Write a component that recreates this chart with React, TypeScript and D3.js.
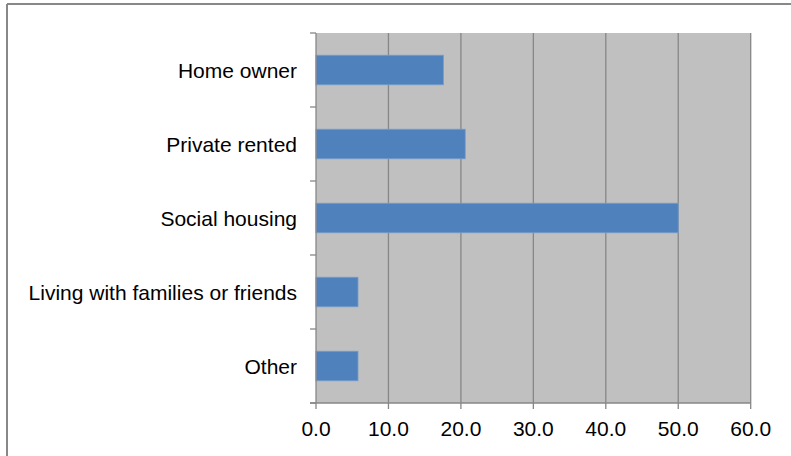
import React from "react";
import * as d3 from "d3";

const categories = ["Home owner", "Private rented", "Social housing", "Living with families or friends", "Other"];
const values = [17.6, 20.6, 50.0, 5.8, 5.8];
const xTicks = [0, 10, 20, 30, 40, 50, 60];

const W = 791, H = 456;
const left = 316, right = 750.7, top = 33, bottom = 403;

export default function App() {
  const x = d3.scaleLinear().domain([0, 60]).range([left, right]);
  const y = d3.scaleBand<string>().domain(categories).range([top, bottom]).paddingInner(0.6).paddingOuter(0.3);
  const band = d3.scaleBand<string>().domain(categories).range([top, bottom]);
  const boundaries = categories.map((c) => band(c)!).concat([bottom]);
  const font = "'Liberation Sans', Arial, sans-serif";
  return (
    <svg width={W} height={H} style={{ position: "absolute", left: 0, top: 0, background: "#fff" }}>
      <line x1={7} y1={4} x2={W} y2={4} stroke="#888" strokeWidth={2} />
      <line x1={7} y1={4} x2={7} y2={H} stroke="#888" strokeWidth={2} />
      <rect x={left} y={top} width={right - left} height={bottom - top} fill="#c0c0c0" />
      {xTicks.slice(1).map((t) => (
        <line key={t} x1={x(t)} x2={x(t)} y1={top} y2={bottom} stroke="#878787" strokeWidth={1.3} />
      ))}
      {categories.map((c, i) => (
        <rect key={c} x={x(0)} y={y(c)!} width={x(values[i]) - x(0)} height={y.bandwidth()} fill="#4f81bd" stroke="#7a9fcd" strokeWidth={0.8} />
      ))}
      <line x1={left} x2={left} y1={top} y2={bottom} stroke="#878787" strokeWidth={1.3} />
      <line x1={left - 6} x2={right} y1={bottom} y2={bottom} stroke="#878787" strokeWidth={1.3} />
      {boundaries.map((b, i) => (
        <line key={i} x1={left - 6} x2={left} y1={b} y2={b} stroke="#878787" strokeWidth={1.3} />
      ))}
      {xTicks.map((t) => (
        <g key={t}>
          <line x1={x(t)} x2={x(t)} y1={bottom} y2={bottom + 6} stroke="#878787" strokeWidth={1.3} />
          <text x={x(t)} y={436} textAnchor="middle" fontFamily={font} fontSize={21} fill="#000">
            {t.toFixed(1)}
          </text>
        </g>
      ))}
      {categories.map((c) => (
        <text key={c} x={297} y={band(c)! + band.bandwidth() / 2 + 7.5} textAnchor="end" fontFamily={font} fontSize={21} fill="#000">
          {c}
        </text>
      ))}
    </svg>
  );
}
